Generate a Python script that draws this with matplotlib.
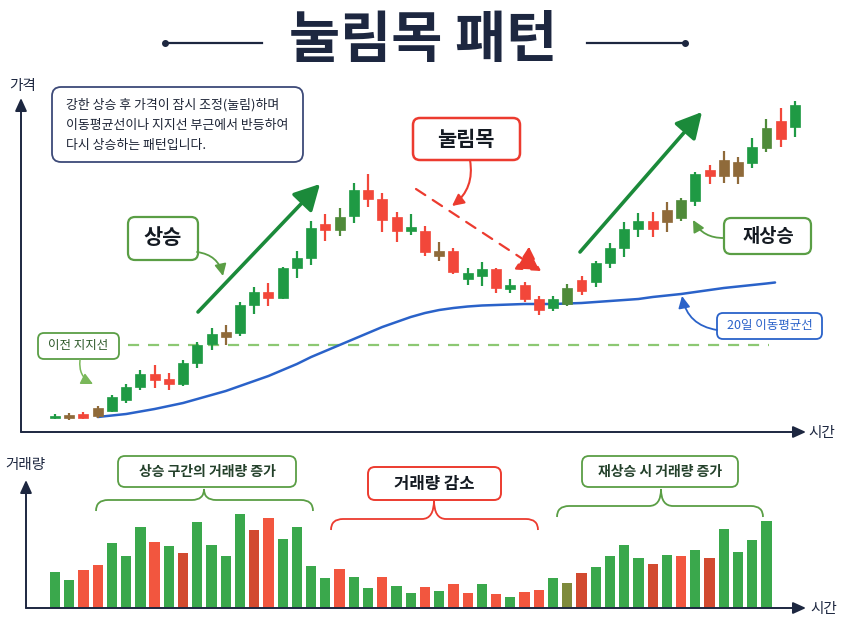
import matplotlib
matplotlib.use("Agg")
import matplotlib.pyplot as plt
from matplotlib.patches import FancyBboxPatch, FancyArrowPatch, PathPatch
from matplotlib.path import Path
import numpy as np

plt.rcParams['font.family'] = ['Noto Sans CJK KR', 'DejaVu Sans']

# ---------------- data ----------------
open_ = [101, 101, 103, 102, 104.5, 110, 116.5, 123, 120.5, 118, 128.5, 138, 141.5, 143.5, 157.5, 164, 161,
         176, 181, 198, 195, 202, 215, 210.5, 201.5, 194.5, 194.5, 184.5, 184.5, 170.5, 172, 175.5, 165.5,
         167.5, 160.5, 156, 158, 170, 169, 178.5, 186, 195.5, 199.5, 199, 201, 209.5, 225, 222, 229, 228.5,
         236, 249.5, 246.5]
close = [102, 102.5, 101, 106, 111.5, 116.5, 123, 120, 118, 128.5, 137.5, 143, 144, 157.5, 164, 161, 176,
         181, 196, 195, 201.5, 215, 210.5, 200, 194.5, 196.5, 184, 182, 174, 173.5, 175.5, 166, 167.5,
         160.5, 155, 160.5, 166, 164.5, 178.5, 186, 195.5, 199.5, 195.5, 205, 210, 223, 222, 230, 222,
         236.5, 246, 240.5, 257.5]
high = [103, 103.5, 104, 107, 112.5, 118, 125, 127.5, 123.5, 130, 139, 146, 147.5, 159, 166.5, 168.5, 176.5,
        184.5, 199.5, 203, 206, 218.5, 223, 213.5, 204, 203, 197, 189, 186, 176, 179, 176, 170.5, 169, 162,
        162, 168, 172, 179.5, 188.5, 199, 203.5, 204, 209, 211, 224, 227.5, 234.5, 231.5, 241, 250.5, 256,
        259.5]
low = [100.5, 100, 100.5, 101, 104, 108.5, 115, 116, 115, 117, 126, 135, 137.5, 142, 153, 157, 160.5, 171,
       177.5, 189.5, 192, 198.5, 206.5, 194, 189, 192.5, 182, 179.5, 173, 167.5, 167, 163.5, 163.5, 159,
       152.5, 154.5, 157, 162.5, 166.5, 176, 181.5, 191.5, 191.5, 194, 199.5, 207, 218, 218.5, 218, 226,
       234, 236.5, 241.5]
candle_tone = ['g', 'b', 'r', 'b', 'g', 'g', 'g', 'r', 'r', 'g', 'g', 'g', 'b', 'g', 'g', 'r', 'g', 'g', 'g',
               'r', 'o', 'g', 'r', 'r', 'r', 'g', 'r', 'b', 'r', 'g', 'g', 'r', 'g', 'r', 'r', 'g', 'o', 'r',
               'g', 'g', 'g', 'g', 'r', 'b', 'o', 'g', 'r', 'b', 'b', 'g', 'o', 'r', 'g']

ma_idx = list(range(3, 51)) + [50.6]
ma20 = [101.5, 102.25, 103, 104.25, 105.5, 107, 108.5, 110.5, 112.5, 114.5, 117, 119.5, 122, 125, 128,
        131.5, 134.5, 137.5, 140.5, 143.5, 146.5, 149, 151.5, 153.5, 155, 156, 156.75, 157.25, 157.5,
        157.75, 158, 158, 158, 158.25, 158.5, 159, 159.5, 160, 160.5, 161.5, 162.25, 163, 164, 165, 166,
        166.75, 167.5, 168.25, 168.75]
support_level = 137.5
support_span = [5.1, 50.2]

volume = [36, 28, 38, 43, 65, 52, 81, 66, 62, 55, 86, 63, 52, 94, 78, 90, 69, 81, 42, 30, 39, 31, 20, 31,
          22, 15, 21, 17, 24, 15, 24, 14, 11, 16, 18, 30, 25, 35, 41, 52, 63, 50, 44, 53, 52, 58, 50, 79,
          56, 68, 87]
volume_tone = ['g', 'g', 'r', 'r', 'g', 'g', 'g', 'r', 'g', 'R', 'g', 'g', 'g', 'g', 'R', 'r', 'g', 'g', 'g',
               'g', 'r', 'g', 'g', 'r', 'g', 'g', 'r', 'g', 'r', 'r', 'g', 'r', 'g', 'r', 'r', 'g', 'o', 'R',
               'g', 'g', 'g', 'g', 'R', 'g', 'r', 'g', 'R', 'g', 'g', 'g', 'g']

title = '눌림목 패턴'
info_lines = ['강한 상승 후 가격이 잠시 조정(눌림)하며',
              '이동평균선이나 지지선 부근에서 반등하여',
              '다시 상승하는 패턴입니다.']

# ---------------- style ----------------
W, H = 844, 629
NAVY = '#1d2740'
C_CANDLE = {'g': '#1f9a44', 'r': '#f2473a', 'b': '#8f6a3a', 'o': '#4f8a3a'}
C_VOL = {'g': '#3aa84c', 'r': '#f2563f', 'R': '#d24a30', 'o': '#7e8a3c'}
GREEN_DARK = '#1b8a3a'
GREEN_EDGE = '#5a9e45'
RED = '#ec3b2f'
BLUE = '#2a62c9'

fig = plt.figure(figsize=(W / 100, H / 100), dpi=100)
fig.patch.set_facecolor('white')

# x scale: candle index -> pixel 55 + 14.23*i
x0_px, dx_px = 55.0, 14.23
xlim = (-x0_px / dx_px, (W - x0_px) / dx_px)

# price axes (price = 100 + (420 - ypx)/2)
axp = fig.add_axes([0, 0, 1, 1])
axp.set_xlim(*xlim)
axp.set_ylim(100 + (420 - H) / 2, 100 + 420 / 2)
axp.axis('off')

# volume axes (vol 0 at ypx 608, 1 unit = 1 px)
axv = fig.add_axes([0, 0, 1, 1])
axv.set_xlim(*xlim)
axv.set_ylim(-(H - 608), 608)
axv.axis('off')
axv.patch.set_alpha(0)

# annotation overlay in pixel space
ax = fig.add_axes([0, 0, 1, 1])
ax.set_xlim(0, W)
ax.set_ylim(H, 0)
ax.axis('off')
ax.patch.set_alpha(0)

# ---------------- candles ----------------
idx = np.arange(len(open_))
for i in idx:
    col = C_CANDLE[candle_tone[i]]
    axp.vlines(i, low[i], high[i], color=col, lw=1.6, zorder=3)
    lo, hi = min(open_[i], close[i]), max(open_[i], close[i])
    axp.bar(i, max(hi - lo, 0.8), bottom=lo, width=0.7, color=col, edgecolor=col, lw=0.5, zorder=4)

axp.plot(ma_idx, ma20, color=BLUE, lw=1.8, zorder=2, solid_capstyle='round')
axp.hlines(support_level, support_span[0], support_span[1], colors='#8cc873', lw=1.6,
           linestyles=(0, (5, 4)), zorder=1)

# ---------------- volume ----------------
vidx = np.arange(len(volume))
axv.bar(vidx, volume, width=0.72, color=[C_VOL[t] for t in volume_tone], zorder=3)

# ---------------- axes arrows ----------------
def axis_arrow(p0, p1):
    ax.add_patch(FancyArrowPatch(p0, p1, arrowstyle='-|>,head_length=0.55,head_width=0.25',
                                 mutation_scale=14, color=NAVY, lw=1.4, shrinkA=0, shrinkB=0, zorder=5))

axis_arrow((21, 432), (21, 98))
axis_arrow((21, 432), (806, 432))
axis_arrow((26, 608), (26, 480))
axis_arrow((26, 608), (806, 608))
ax.text(23, 86, '가격', ha='center', va='center', fontsize=10.5, fontweight='medium', color=NAVY)
ax.text(822, 433, '시간', ha='center', va='center', fontsize=10.5, fontweight='medium', color=NAVY)
ax.text(25, 465, '거래량', ha='center', va='center', fontsize=10.5, fontweight='medium', color=NAVY)
ax.text(824, 609, '시간', ha='center', va='center', fontsize=10.5, fontweight='medium', color=NAVY)

# ---------------- title ----------------
ax.text(423, 41, title, ha='center', va='center', fontsize=40, fontweight='bold', color=NAVY)
ax.plot([165, 262], [43, 43], color=NAVY, lw=1.6)
ax.plot([587, 685], [43, 43], color=NAVY, lw=1.6)
ax.plot([165, 685], [43, 43], 'o', color=NAVY, ms=4)

# ---------------- helpers ----------------
def rbox(x0, y0, x1, y1, ec, lw=1.5, r=7):
    ax.add_patch(FancyBboxPatch((x0, y0), x1 - x0, y1 - y0,
                                boxstyle=f'round,pad=0,rounding_size={r}',
                                fc='white', ec=ec, lw=lw, zorder=6))

def curved(p0, p1, color, rad, lw=1.3, hl=0.5, hw=0.25, ms=14):
    ax.add_patch(FancyArrowPatch(p0, p1, connectionstyle=f'arc3,rad={rad}',
                                 arrowstyle=f'-|>,head_length={hl},head_width={hw}',
                                 mutation_scale=ms, color=color, lw=lw, shrinkA=0, shrinkB=0, zorder=6))

def brace(x0, x1, xc, yb, ym, yt, color, r=12, lw=1.3):
    verts = [(x0, yb), (x0, ym), (x0 + r, ym), (xc - r, ym), (xc, ym), (xc, yt),
             (xc, ym), (xc + r, ym), (x1 - r, ym), (x1, ym), (x1, yb)]
    codes = [Path.MOVETO, Path.CURVE3, Path.CURVE3, Path.LINETO, Path.CURVE3, Path.CURVE3,
             Path.CURVE3, Path.CURVE3, Path.LINETO, Path.CURVE3, Path.CURVE3]
    ax.add_patch(PathPatch(Path(verts, codes), fc='none', ec=color, lw=lw, zorder=5))

# ---------------- info box ----------------
rbox(52, 87, 303, 162, '#3d4a78', lw=1.3, r=9)
for k, line in enumerate(info_lines):
    ax.text(66, 105 + k * 20, line, ha='left', va='center', fontsize=9.3, fontweight='medium',
            color='#1d2435', zorder=7)

# ---------------- price annotations ----------------
# 상승
rbox(128, 217, 198, 260, GREEN_EDGE, lw=1.6)
ax.text(163, 238, '상승', ha='center', va='center', fontsize=15, fontweight='bold', color='#141a22', zorder=7)
curved((197, 252), (223, 276), GREEN_EDGE, -0.35)
ax.add_patch(FancyArrowPatch((198, 312), (320, 184), arrowstyle='-|>,head_length=0.6,head_width=0.32',
                             mutation_scale=26, color=GREEN_DARK, lw=2.6, shrinkA=0, shrinkB=0, zorder=5))

# 눌림목
rbox(413, 118, 520, 160, RED, lw=1.8)
ax.text(466, 139, '눌림목', ha='center', va='center', fontsize=15, fontweight='bold', color='#141a22', zorder=7)
curved((470, 160), (452, 206), RED, -0.3, lw=1.5)
ax.add_patch(FancyArrowPatch((416, 189), (541, 271), arrowstyle='-|>,head_length=0.6,head_width=0.35',
                             mutation_scale=24, color=RED, lw=1.6, linestyle=(0, (5, 4)),
                             shrinkA=0, shrinkB=0, zorder=5))

# 재상승
ax.add_patch(FancyArrowPatch((580, 252), (702, 112), arrowstyle='-|>,head_length=0.6,head_width=0.32',
                             mutation_scale=26, color=GREEN_DARK, lw=2.6, shrinkA=0, shrinkB=0, zorder=5))
rbox(724, 218, 811, 254, GREEN_EDGE, lw=1.6)
ax.text(768, 236, '재상승', ha='center', va='center', fontsize=13.5, fontweight='bold', color='#141a22', zorder=7)
curved((724, 238), (693, 220), GREEN_EDGE, -0.3)

# 20일 이동평균선
rbox(717, 313, 822, 339, BLUE, lw=1.3, r=6)
ax.text(770, 326, '20일 이동평균선', ha='center', va='center', fontsize=9, fontweight='medium',
        color=BLUE, zorder=7)
curved((717, 330), (682, 296), BLUE, -0.35)

# 이전 지지선
rbox(38, 333, 119, 359, GREEN_EDGE, lw=1.3, r=6)
ax.text(78.5, 346, '이전 지지선', ha='center', va='center', fontsize=9, fontweight='medium',
        color='#2e5a2a', zorder=7)
curved((80, 360), (93, 384), '#7ab85a', 0.35, lw=1.1)

# ---------------- volume annotations ----------------
rbox(118, 456, 296, 487, GREEN_EDGE, lw=1.3)
ax.text(207, 471.5, '상승 구간의 거래량 증가', ha='center', va='center', fontsize=10, fontweight='bold',
        color='#23402a', zorder=7)
brace(96, 313, 204, 511, 500, 489, GREEN_EDGE)

rbox(368, 467, 501, 500, RED, lw=1.4)
ax.text(434.5, 483.5, '거래량 감소', ha='center', va='center', fontsize=12, fontweight='bold',
        color='#141a22', zorder=7)
brace(331, 538, 434, 530, 519, 500, RED)

rbox(582, 456, 738, 487, GREEN_EDGE, lw=1.3)
ax.text(660, 471.5, '재상승 시 거래량 증가', ha='center', va='center', fontsize=10, fontweight='bold',
        color='#23402a', zorder=7)
brace(557, 763, 661, 517, 506, 489, GREEN_EDGE)

fig.savefig('out.png', dpi=100, facecolor='white')
